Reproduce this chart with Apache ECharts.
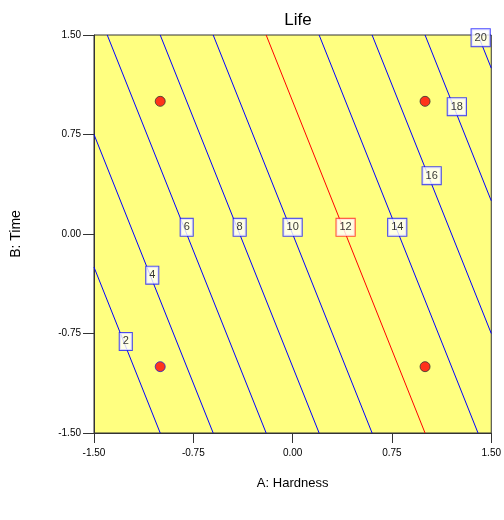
<!DOCTYPE html>
<html>
<head>
<meta charset="utf-8">
<script src="https://cdn.jsdelivr.net/npm/echarts@6/dist/echarts.min.js"></script>
<style>
  html, body { margin: 0; padding: 0; background: #fff; }
  #chart { width: 504px; height: 520px; }
</style>
</head>
<body>
<div id="chart"></div>
<script>
// contour levels and where each contour meets the plot border
const levels = [2, 4, 6, 8, 10, 12, 14, 16, 18, 20];
const lineStarts = [[-1.5, -0.25], [-1.5, 0.75], [-1.4, 1.5], [-1.0, 1.5], [-0.6, 1.5], [-0.2, 1.5], [0.2, 1.5], [0.6, 1.5], [1.0, 1.5], [1.4, 1.5]];
const lineEnds = [[-1.0, -1.5], [-0.6, -1.5], [-0.2, -1.5], [0.2, -1.5], [0.6, -1.5], [1.0, -1.5], [1.4, -1.5], [1.5, -0.75], [1.5, 0.25], [1.5, 1.25]];
// where the level boxes sit
const labelSpots = [[-1.26, -0.81], [-1.06, -0.31], [-0.80, 0.05], [-0.40, 0.05], [0.0, 0.05], [0.40, 0.05], [0.79, 0.05], [1.05, 0.44], [1.24, 0.96], [1.42, 1.48]];
// design points
const designPoints = [[-1, 1], [1, 1], [-1, -1], [1, -1]];
const axisTicks = [-1.5, -0.75, 0, 0.75, 1.5];

const font = 'Liberation Sans, Arial, sans-serif';
const myChart = echarts.init(document.getElementById('chart'));

let series = [];
levels.forEach(function (lv, i) {
    series.push({
        type: 'line',
        data: [lineStarts[i], lineEnds[i]],
        symbol: 'none',
        silent: true,
        lineStyle: { color: lv === 12 ? '#ff0000' : '#0000ff', width: 1 },
        z: 2
    });
});
series.push({
    type: 'scatter',
    data: labelSpots.map(function (p, i) { return { value: p }; }),
    symbolSize: 0,
    z: 5,
    label: {
        show: true,
        position: 'inside',
        formatter: function (p) { return String(levels[p.dataIndex]); },
        fontFamily: font,
        fontSize: 11,
        color: '#000',
        backgroundColor: '#fff',
        borderWidth: 1,
        borderColor: '#1a1aff',
        padding: [3, 3, 2, 3],
        lineHeight: 12
    },
    labelLayout: { hideOverlap: false }
});
// red box for the 12 contour
series[series.length - 1].data[5].label = { borderColor: '#ff2222' };
series.push({
    type: 'scatter',
    data: designPoints.map(function (p, i) {
        return { value: p, itemStyle: { borderColor: i === 2 ? '#2222cc' : '#333' } };
    }),
    symbolSize: 10,
    z: 6,
    itemStyle: { color: '#ff0000', borderWidth: 1 }
});

myChart.setOption({
    animation: false,
    title: {
        text: 'Life',
        left: 293,
        top: 7,
        textAlign: 'center',
        textStyle: { fontFamily: font, fontSize: 17, fontWeight: 'normal', color: '#000' }
    },
    grid: {
        left: 94, right: 11, top: 35, bottom: 87,
        show: true,
        backgroundColor: '#ffff80',
        borderColor: '#333',
        borderWidth: 1
    },
    xAxis: {
        type: 'value',
        min: axisTicks[0], max: axisTicks[4], interval: 0.75,
        name: 'A: Hardness',
        nameLocation: 'middle',
        nameGap: 44,
        nameTextStyle: { fontFamily: font, fontSize: 13, color: '#000' },
        axisLine: { onZero: false, lineStyle: { color: '#333' } },
        axisTick: { inside: false, length: 10, lineStyle: { color: '#333' } },
        axisLabel: { fontFamily: font, fontSize: 10, color: '#000', margin: 15, formatter: function (v) { return v.toFixed(2); } },
        splitLine: { show: false }
    },
    yAxis: {
        type: 'value',
        min: axisTicks[0], max: axisTicks[4], interval: 0.75,
        name: 'B: Time',
        nameLocation: 'middle',
        nameGap: 71,
        nameTextStyle: { fontFamily: font, fontSize: 14, color: '#000' },
        axisLine: { onZero: false, lineStyle: { color: '#333' } },
        axisTick: { inside: false, length: 11, lineStyle: { color: '#333' } },
        axisLabel: { fontFamily: font, fontSize: 10, color: '#000', margin: 13, formatter: function (v) { return v.toFixed(2); } },
        splitLine: { show: false }
    },
    series: series
});
</script>
</body>
</html>
